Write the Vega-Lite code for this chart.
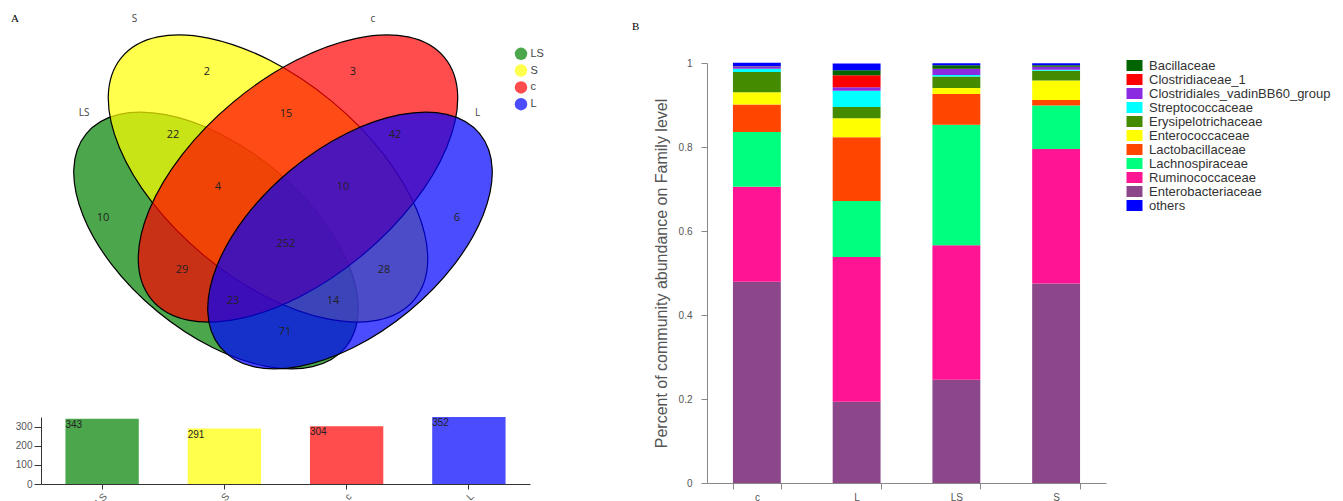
{
  "$schema": "https://vega.github.io/schema/vega-lite/v6.json",
  "padding": {"left": 11, "top": 0, "right": 0, "bottom": 0},
  "bounds": "flush",
  "spacing": 106,
  "resolve": {"scale": {"color": "independent"}, "legend": {"color": "independent"}},
  "config": {
    "view": {"stroke": null},
    "font": "Liberation Sans",
    "axis": {"grid": false}
  },
  "datasets": {
    "ellipses": [
      {"set": "LS", "x": 216, "y": 240.5},
      {"set": "S", "x": 268, "y": 178.5},
      {"set": "c", "x": 298, "y": 178.5},
      {"set": "L", "x": 350, "y": 240.5}
    ],
    "regions": [
      {"count": 2, "x": 207, "y": 72},
      {"count": 3, "x": 353, "y": 72},
      {"count": 22, "x": 173, "y": 135},
      {"count": 15, "x": 286, "y": 114},
      {"count": 42, "x": 395, "y": 135},
      {"count": 4, "x": 218, "y": 187},
      {"count": 10, "x": 343, "y": 187},
      {"count": 10, "x": 103, "y": 218},
      {"count": 6, "x": 457, "y": 218},
      {"count": 252, "x": 286, "y": 244},
      {"count": 29, "x": 182, "y": 270},
      {"count": 28, "x": 384, "y": 270},
      {"count": 23, "x": 233, "y": 301},
      {"count": 14, "x": 333, "y": 301},
      {"count": 71, "x": 285, "y": 332}
    ],
    "setLabels": [
      {"label": "S", "x": 134.5, "y": 19},
      {"label": "c", "x": 373, "y": 19},
      {"label": "LS", "x": 84, "y": 113},
      {"label": "L", "x": 477.5, "y": 113}
    ],
    "totals": [
      {"set": "LS", "total": 343},
      {"set": "S", "total": 291},
      {"set": "c", "total": 304},
      {"set": "L", "total": 352}
    ],
    "abundance": [
      {"sample": "c", "family": "Enterobacteriaceae", "value": 0.479, "rank": 1},
      {"sample": "c", "family": "Ruminococcaceae", "value": 0.2265, "rank": 2},
      {"sample": "c", "family": "Lachnospiraceae", "value": 0.1305, "rank": 3},
      {"sample": "c", "family": "Lactobacillaceae", "value": 0.065, "rank": 4},
      {"sample": "c", "family": "Enterococcaceae", "value": 0.0296, "rank": 5},
      {"sample": "c", "family": "Erysipelotrichaceae", "value": 0.0477, "rank": 6},
      {"sample": "c", "family": "Streptococcaceae", "value": 0.0079, "rank": 7},
      {"sample": "c", "family": "Clostridiales_vadinBB60_group", "value": 0.0048, "rank": 8},
      {"sample": "c", "family": "Clostridiaceae_1", "value": 0.0005, "rank": 9},
      {"sample": "c", "family": "Bacillaceae", "value": 0.001, "rank": 10},
      {"sample": "c", "family": "others", "value": 0.0079, "rank": 11},
      {"sample": "L", "family": "Enterobacteriaceae", "value": 0.1933, "rank": 1},
      {"sample": "L", "family": "Ruminococcaceae", "value": 0.345, "rank": 2},
      {"sample": "L", "family": "Lachnospiraceae", "value": 0.1329, "rank": 3},
      {"sample": "L", "family": "Lactobacillaceae", "value": 0.152, "rank": 4},
      {"sample": "L", "family": "Enterococcaceae", "value": 0.0453, "rank": 5},
      {"sample": "L", "family": "Erysipelotrichaceae", "value": 0.027, "rank": 6},
      {"sample": "L", "family": "Streptococcaceae", "value": 0.0382, "rank": 7},
      {"sample": "L", "family": "Clostridiales_vadinBB60_group", "value": 0.0088, "rank": 8},
      {"sample": "L", "family": "Clostridiaceae_1", "value": 0.0286, "rank": 9},
      {"sample": "L", "family": "Bacillaceae", "value": 0.0119, "rank": 10},
      {"sample": "L", "family": "others", "value": 0.0158, "rank": 11},
      {"sample": "LS", "family": "Enterobacteriaceae", "value": 0.2458, "rank": 1},
      {"sample": "LS", "family": "Ruminococcaceae", "value": 0.3205, "rank": 2},
      {"sample": "LS", "family": "Lachnospiraceae", "value": 0.2868, "rank": 3},
      {"sample": "LS", "family": "Lactobacillaceae", "value": 0.0733, "rank": 4},
      {"sample": "LS", "family": "Enterococcaceae", "value": 0.0143, "rank": 5},
      {"sample": "LS", "family": "Erysipelotrichaceae", "value": 0.027, "rank": 6},
      {"sample": "LS", "family": "Streptococcaceae", "value": 0.004, "rank": 7},
      {"sample": "LS", "family": "Clostridiales_vadinBB60_group", "value": 0.0143, "rank": 8},
      {"sample": "LS", "family": "Clostridiaceae_1", "value": 0.0005, "rank": 9},
      {"sample": "LS", "family": "Bacillaceae", "value": 0.0079, "rank": 10},
      {"sample": "LS", "family": "others", "value": 0.0048, "rank": 11},
      {"sample": "S", "family": "Enterobacteriaceae", "value": 0.475, "rank": 1},
      {"sample": "S", "family": "Ruminococcaceae", "value": 0.3205, "rank": 2},
      {"sample": "S", "family": "Lachnospiraceae", "value": 0.1034, "rank": 3},
      {"sample": "S", "family": "Lactobacillaceae", "value": 0.0129, "rank": 4},
      {"sample": "S", "family": "Enterococcaceae", "value": 0.0468, "rank": 5},
      {"sample": "S", "family": "Erysipelotrichaceae", "value": 0.0232, "rank": 6},
      {"sample": "S", "family": "Streptococcaceae", "value": 0.0024, "rank": 7},
      {"sample": "S", "family": "Clostridiales_vadinBB60_group", "value": 0.0064, "rank": 8},
      {"sample": "S", "family": "Clostridiaceae_1", "value": 0.0005, "rank": 9},
      {"sample": "S", "family": "Bacillaceae", "value": 0.0038, "rank": 10},
      {"sample": "S", "family": "others", "value": 0.0048, "rank": 11}
    ]
  },
  "hconcat": [
    {
      "width": 560,
      "height": 484,
      "title": {"text": "A", "anchor": "start", "frame": "group", "orient": "top", "offset": 0, "dx": -30, "dy": 32.5, "baseline": "alphabetic", "font": "Liberation Serif", "fontSize": 11, "fontWeight": "normal", "color": "black"},
      "layer": [
        {
          "layer": [
            {
              "data": {"name": "ellipses"},
              "transform": [{"filter": "datum.set === 'LS'"}],
              "mark": {"type": "point", "shape": "M 1 0 C 1 0.3027 0.5523 0.548 0 0.548 C -0.5523 0.548 -1 0.3027 -1 0 C -1 -0.3027 -0.5523 -0.548 0 -0.548 C 0.5523 -0.548 1 -0.3027 1 0 Z", "size": 112896, "angle": 39.5, "filled": true, "opacity": 1, "fillOpacity": 0.7, "stroke": "black", "strokeWidth": 1.2},
              "encoding": {
                "x": {"field": "x", "type": "quantitative", "scale": {"domain": [41, 601], "nice": false, "zero": false}, "axis": null},
                "y": {"field": "y", "type": "quantitative", "scale": {"domain": [0, 484], "nice": false, "zero": false, "reverse": true}, "axis": null},
                "color": {"field": "set", "type": "nominal", "scale": {"domain": ["LS", "S", "c", "L"], "range": ["#008000", "#ffff00", "#ff0000", "#0000ff"]}, "legend": {"orient": "none", "legendX": 473.5, "legendY": 47.3, "title": null, "symbolType": "circle", "symbolSize": 156, "symbolOpacity": 0.7, "symbolStrokeWidth": 0, "labelFontSize": 11, "labelColor": "#444", "rowPadding": 3.8, "labelOffset": 3, "padding": 0}}
              }
            },
            {
              "data": {"name": "ellipses"},
              "transform": [{"filter": "datum.set === 'S'"}],
              "mark": {"type": "point", "shape": "M 1 0 C 1 0.291 0.5523 0.527 0 0.527 C -0.5523 0.527 -1 0.291 -1 0 C -1 -0.291 -0.5523 -0.527 0 -0.527 C 0.5523 -0.527 1 -0.291 1 0 Z", "size": 144400, "angle": 39.6, "filled": true, "opacity": 1, "fillOpacity": 0.7, "stroke": "black", "strokeWidth": 1.2},
              "encoding": {
                "x": {"field": "x", "type": "quantitative", "scale": {"domain": [41, 601], "nice": false, "zero": false}, "axis": null},
                "y": {"field": "y", "type": "quantitative", "scale": {"domain": [0, 484], "nice": false, "zero": false, "reverse": true}, "axis": null},
                "color": {"field": "set", "type": "nominal", "scale": {"domain": ["LS", "S", "c", "L"], "range": ["#008000", "#ffff00", "#ff0000", "#0000ff"]}, "legend": {"orient": "none", "legendX": 473.5, "legendY": 47.3, "title": null, "symbolType": "circle", "symbolSize": 156, "symbolOpacity": 0.7, "symbolStrokeWidth": 0, "labelFontSize": 11, "labelColor": "#444", "rowPadding": 3.8, "labelOffset": 3, "padding": 0}}
              }
            },
            {
              "data": {"name": "ellipses"},
              "transform": [{"filter": "datum.set === 'c'"}],
              "mark": {"type": "point", "shape": "M 1 0 C 1 0.291 0.5523 0.527 0 0.527 C -0.5523 0.527 -1 0.291 -1 0 C -1 -0.291 -0.5523 -0.527 0 -0.527 C 0.5523 -0.527 1 -0.291 1 0 Z", "size": 144400, "angle": -39.6, "filled": true, "opacity": 1, "fillOpacity": 0.7, "stroke": "black", "strokeWidth": 1.2},
              "encoding": {
                "x": {"field": "x", "type": "quantitative", "scale": {"domain": [41, 601], "nice": false, "zero": false}, "axis": null},
                "y": {"field": "y", "type": "quantitative", "scale": {"domain": [0, 484], "nice": false, "zero": false, "reverse": true}, "axis": null},
                "color": {"field": "set", "type": "nominal", "scale": {"domain": ["LS", "S", "c", "L"], "range": ["#008000", "#ffff00", "#ff0000", "#0000ff"]}, "legend": {"orient": "none", "legendX": 473.5, "legendY": 47.3, "title": null, "symbolType": "circle", "symbolSize": 156, "symbolOpacity": 0.7, "symbolStrokeWidth": 0, "labelFontSize": 11, "labelColor": "#444", "rowPadding": 3.8, "labelOffset": 3, "padding": 0}}
              }
            },
            {
              "data": {"name": "ellipses"},
              "transform": [{"filter": "datum.set === 'L'"}],
              "mark": {"type": "point", "shape": "M 1 0 C 1 0.3027 0.5523 0.548 0 0.548 C -0.5523 0.548 -1 0.3027 -1 0 C -1 -0.3027 -0.5523 -0.548 0 -0.548 C 0.5523 -0.548 1 -0.3027 1 0 Z", "size": 112896, "angle": -39.5, "filled": true, "opacity": 1, "fillOpacity": 0.7, "stroke": "black", "strokeWidth": 1.2},
              "encoding": {
                "x": {"field": "x", "type": "quantitative", "scale": {"domain": [41, 601], "nice": false, "zero": false}, "axis": null},
                "y": {"field": "y", "type": "quantitative", "scale": {"domain": [0, 484], "nice": false, "zero": false, "reverse": true}, "axis": null},
                "color": {"field": "set", "type": "nominal", "scale": {"domain": ["LS", "S", "c", "L"], "range": ["#008000", "#ffff00", "#ff0000", "#0000ff"]}, "legend": {"orient": "none", "legendX": 473.5, "legendY": 47.3, "title": null, "symbolType": "circle", "symbolSize": 156, "symbolOpacity": 0.7, "symbolStrokeWidth": 0, "labelFontSize": 11, "labelColor": "#444", "rowPadding": 3.8, "labelOffset": 3, "padding": 0}}
              }
            },
            {
              "data": {"name": "regions"},
              "mark": {"type": "text", "fontSize": 11, "font": "Open Sans", "color": "#222", "align": "center", "baseline": "middle"},
              "encoding": {
                "x": {"field": "x", "type": "quantitative", "scale": {"domain": [41, 601], "nice": false, "zero": false}, "axis": null},
                "y": {"field": "y", "type": "quantitative", "scale": {"domain": [0, 484], "nice": false, "zero": false, "reverse": true}, "axis": null},
                "text": {"field": "count", "type": "quantitative"}
              }
            },
            {
              "data": {"name": "setLabels"},
              "mark": {"type": "text", "fontSize": 10, "font": "Open Sans", "color": "#444", "align": "center", "baseline": "middle"},
              "encoding": {
                "x": {"field": "x", "type": "quantitative", "scale": {"domain": [41, 601], "nice": false, "zero": false}, "axis": null},
                "y": {"field": "y", "type": "quantitative", "scale": {"domain": [0, 484], "nice": false, "zero": false, "reverse": true}, "axis": null},
                "text": {"field": "label", "type": "nominal"}
              }
            }
          ]
        },
        {
          "data": {"name": "totals"},
          "layer": [
            {
              "mark": {"type": "bar", "fillOpacity": 0.7},
              "encoding": {
                "x": {"field": "set", "type": "nominal", "sort": ["LS", "S", "c", "L"], "scale": {"range": [0, 489], "paddingInner": 0.4, "paddingOuter": 0.2}, "axis": {"orient": "bottom", "title": null, "labelAngle": -45, "labelFontSize": 10, "labelColor": "#555", "tickSize": 5, "labelPadding": 2, "domainColor": "#333", "tickColor": "#333"}},
                "y": {"field": "total", "type": "quantitative", "scale": {"domain": [0, 352], "range": [484, 417], "nice": false}, "axis": {"orient": "left", "title": null, "values": [0, 100, 200, 300], "labelFontSize": 10, "labelColor": "#555", "tickSize": 7, "labelPadding": 2, "domainColor": "#333", "tickColor": "#333"}},
                "color": {"field": "set", "type": "nominal", "scale": {"domain": ["LS", "S", "c", "L"], "range": ["#008000", "#ffff00", "#ff0000", "#0000ff"]}, "legend": {"orient": "none", "legendX": 473.5, "legendY": 47.3, "title": null, "symbolType": "circle", "symbolSize": 156, "symbolOpacity": 0.7, "symbolStrokeWidth": 0, "labelFontSize": 11, "labelColor": "#444", "rowPadding": 3.8, "labelOffset": 3, "padding": 0}}
              }
            },
            {
              "mark": {"type": "text", "align": "left", "baseline": "top", "dy": 1, "fontSize": 10, "color": "#222"},
              "encoding": {
                "x": {"field": "set", "type": "nominal", "sort": ["LS", "S", "c", "L"], "bandPosition": 0},
                "y": {"field": "total", "type": "quantitative"},
                "text": {"field": "total", "type": "quantitative"}
              }
            }
          ]
        }
      ],
      "resolve": {"scale": {"x": "independent", "y": "independent"}, "axis": {"x": "independent", "y": "independent"}}
    },
    {
      "width": 399,
      "height": 483,
      "title": {"text": "B", "anchor": "start", "frame": "group", "orient": "top", "offset": 0, "dx": -75, "dy": 41, "baseline": "alphabetic", "font": "Liberation Serif", "fontSize": 11, "fontWeight": "normal", "color": "black"},
      "data": {"name": "abundance"},
      "mark": {"type": "bar"},
      "encoding": {
        "x": {"field": "sample", "type": "nominal", "sort": ["c", "L", "LS", "S"], "scale": {"paddingInner": 0.52, "paddingOuter": 0.26}, "axis": {"title": null, "labelAngle": 0, "tickBand": "extent", "labelFontSize": 10, "labelColor": "#555", "domainColor": "#888", "tickColor": "#888", "tickSize": 6, "labelPadding": 3}},
        "y": {"field": "value", "type": "quantitative", "stack": "zero", "scale": {"domain": [0, 1], "range": [483, 63], "nice": false}, "axis": {"title": "Percent of community abundance on Family level", "values": [0, 0.2, 0.4, 0.6, 0.8, 1], "format": "~g", "labelFontSize": 10, "labelColor": "#555", "titleFontSize": 16, "titleFontWeight": "normal", "titleColor": "#555", "tickSize": 6, "labelPadding": 9, "titlePadding": 9, "domainColor": "#888", "tickColor": "#888"}},
        "color": {"field": "family", "type": "nominal", "scale": {"domain": ["Bacillaceae", "Clostridiaceae_1", "Clostridiales_vadinBB60_group", "Streptococcaceae", "Erysipelotrichaceae", "Enterococcaceae", "Lactobacillaceae", "Lachnospiraceae", "Ruminococcaceae", "Enterobacteriaceae", "others"], "range": ["#006400", "#ff0000", "#8a2be2", "#00ffff", "#458b00", "#ffff00", "#ff4500", "#00ff7f", "#ff1493", "#8b4789", "#0000ff"]}, "legend": {"orient": "none", "legendX": 421, "legendY": 59, "title": null, "symbolType": "M -1.333 -0.917 H 1.333 V 0.917 H -1.333 Z", "symbolSize": 144, "symbolStrokeWidth": 0, "symbolOpacity": 1, "labelFontSize": 13, "labelColor": "#333", "labelLimit": 400, "rowPadding": 0, "labelOffset": 8, "padding": 0}},
        "order": {"field": "rank", "type": "quantitative"}
      }
    }
  ]
}
